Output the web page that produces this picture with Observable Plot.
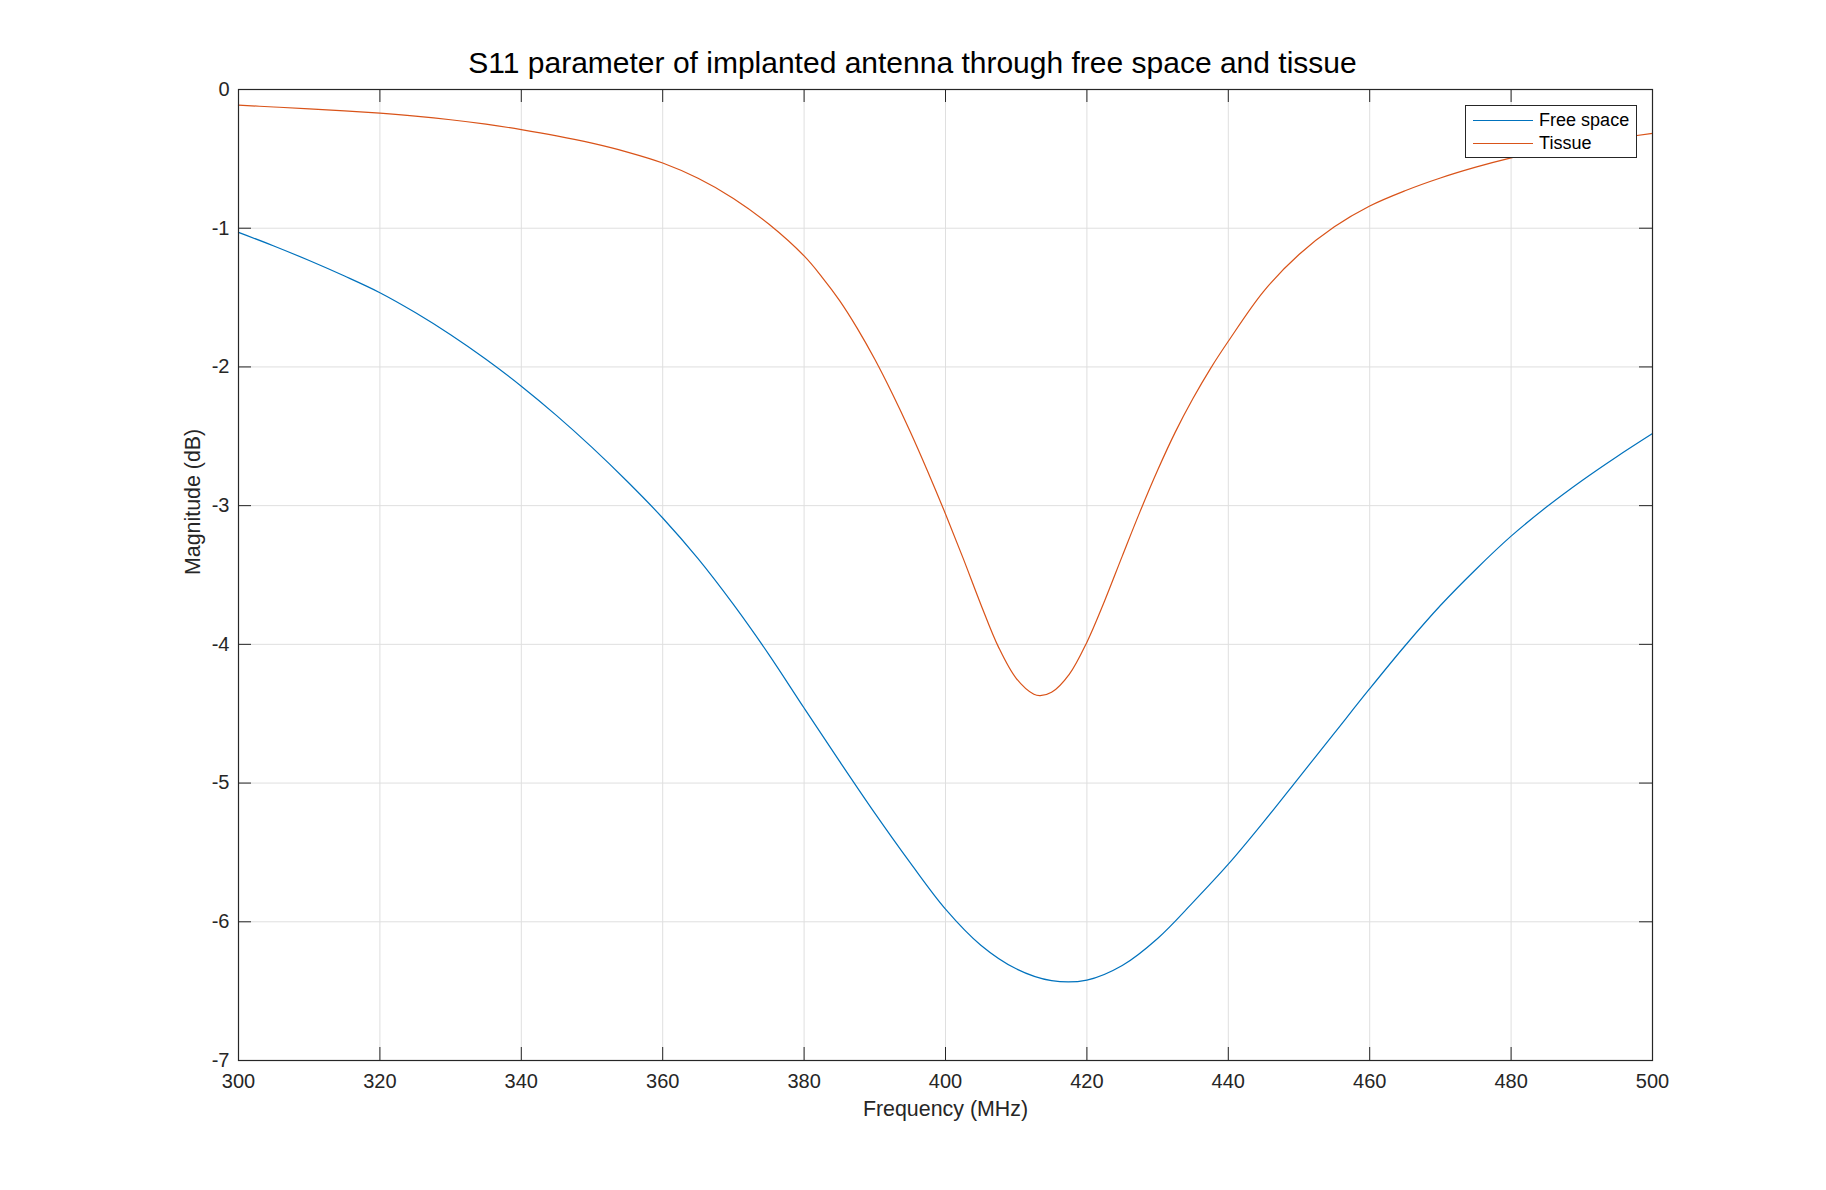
<!DOCTYPE html>
<html>
<head>
<meta charset="utf-8">
<script src="https://cdn.jsdelivr.net/npm/d3@7"></script>
<script src="https://cdn.jsdelivr.net/npm/@observablehq/plot@0.6"></script>
<style>
  body { margin: 0; background: #fff; font-family: "Liberation Sans", Arial, Helvetica, sans-serif; }
  #wrap { position: relative; width: 1826px; height: 1190px; }
  #legend { position: absolute; left: 1465px; top: 105px; width: 172px; height: 53px; box-sizing: border-box;
            border: 1px solid #262626; background: #fff; }
  .item { position: absolute; left: 6.5px; height: 20px; display: flex; align-items: center; }
  .swatch { width: 60px; height: 0; border-top: 1.3px solid; }
  .lab { margin-left: 6.6px; font-size: 18px; line-height: 20px; color: #000; white-space: nowrap; }
</style>
</head>
<body>
<div id="wrap"></div>
<script>
// ---- data ----
const title = "S11 parameter of implanted antenna through free space and tissue";
const xLabel = "Frequency (MHz)";
const yLabel = "Magnitude (dB)";
const seriesNames = ["Free space", "Tissue"];
const seriesColors = ["#0072BD", "#D95319"];
const xTicks = [300, 320, 340, 360, 380, 400, 420, 440, 460, 480, 500];
const yTicks = [0, -1, -2, -3, -4, -5, -6, -7];

const freeSpaceFreq = [300, 305, 310, 315, 320, 325, 330, 335, 340, 345, 350, 355, 360, 365, 370, 375, 380, 385, 390, 395, 400,
                       405, 410, 415, 420, 425, 430, 435, 440, 445, 450, 455, 460, 465, 470, 475, 480, 485, 490, 495, 500];
const freeSpaceMag  = [-1.03, -1.128, -1.233, -1.345, -1.465, -1.608, -1.768, -1.945, -2.139, -2.351, -2.58, -2.826, -3.089, -3.382, -3.712, -4.072, -4.459, -4.842, -5.217, -5.574, -5.909,
                       -6.169, -6.339, -6.424, -6.42, -6.315, -6.12, -5.86, -5.585, -5.28, -4.96, -4.64, -4.32, -4.01, -3.72, -3.46, -3.22, -3.01, -2.82, -2.645, -2.48];

const tissueFreq = [300, 305, 310, 315, 320, 325, 330, 335, 340, 345, 350, 355, 360, 365, 370, 375, 380, 382.5, 385, 387.5, 390, 392.5, 395, 397.5, 400,
                    402.5, 405, 407.5, 410, 412.5, 413.4, 415, 417.5, 420, 422.5, 425, 427.5, 430, 432.5, 435, 437.5, 440,
                    445, 450, 455, 460, 465, 470, 475, 480, 485, 490, 495, 500];
const tissueMag  = [-0.113, -0.126, -0.139, -0.154, -0.171, -0.192, -0.218, -0.250, -0.289, -0.334, -0.387, -0.451, -0.53, -0.64, -0.785, -0.97, -1.20, -1.35, -1.52, -1.72, -1.945, -2.195, -2.465, -2.755, -3.06,
                    -3.38, -3.712, -4.02, -4.245, -4.36, -4.37, -4.346, -4.216, -3.984, -3.687, -3.364, -3.045, -2.745, -2.47, -2.228, -2.01, -1.815,
                    -1.455, -1.19, -0.99, -0.84, -0.73, -0.638, -0.56, -0.493, -0.437, -0.392, -0.352, -0.316];

// ---- build tables ----
const freeSpace = freeSpaceFreq.map((f, i) => ({ f, v: freeSpaceMag[i] }));
const tissue = tissueFreq.map((f, i) => ({ f, v: tissueMag[i] }));

const W = 1826, H = 1190;
const mL = 238, mR = 174, mT = 89, mB = 130;
const frameW = W - mL - mR, frameH = H - mT - mB;
const tickLen = 13;
const axisColor = "#262626";
const gridColor = "#dfdfdf";
const fmt = d => String(d);

const chart = Plot.plot({
  width: W, height: H,
  marginLeft: mL, marginRight: mR, marginTop: mT, marginBottom: mB,
  style: { fontFamily: "Liberation Sans, Arial, Helvetica, sans-serif", background: "#fff", color: axisColor },
  x: { domain: [300, 500], ticks: xTicks },
  y: { domain: [-7, 0], ticks: yTicks },
  marks: [
    Plot.ruleX(xTicks.slice(1, -1), { stroke: gridColor, strokeWidth: 1 }),
    Plot.ruleY(yTicks.slice(1, -1), { stroke: gridColor, strokeWidth: 1 }),
    Plot.line(freeSpace, { x: "f", y: "v", stroke: seriesColors[0], strokeWidth: 1.2, curve: "catmull-rom" }),
    Plot.line(tissue, { x: "f", y: "v", stroke: seriesColors[1], strokeWidth: 1.2, curve: "catmull-rom" }),
    // inward ticks on all four sides
    Plot.ruleX(xTicks, { insetTop: frameH - tickLen, stroke: axisColor }),
    Plot.ruleX(xTicks, { insetBottom: frameH - tickLen, stroke: axisColor }),
    Plot.ruleY(yTicks, { insetRight: frameW - tickLen, stroke: axisColor }),
    Plot.ruleY(yTicks, { insetLeft: frameW - tickLen, stroke: axisColor }),
    Plot.frame({ stroke: axisColor, strokeWidth: 1.2 }),
    Plot.axisX({ ticks: xTicks, tickSize: 0, tickPadding: 13, fontSize: 20, label: null, tickFormat: fmt }),
    Plot.axisY({ ticks: yTicks, tickSize: 0, tickPadding: 9, fontSize: 20, label: null, tickFormat: fmt }),
    Plot.text([xLabel], { frameAnchor: "bottom", dy: 55, lineAnchor: "bottom", fontSize: 21.4, fill: axisColor }),
    Plot.text([yLabel], { frameAnchor: "left", dx: -39, rotate: -90, lineAnchor: "bottom", fontSize: 21.4, fill: axisColor }),
    Plot.text([title], { frameAnchor: "top", dx: -33, dy: -16.3, lineAnchor: "bottom", fontSize: 30, fill: "#000" })
  ]
});

const wrap = document.getElementById("wrap");
wrap.appendChild(chart);

// legend (inside the axes, top-right)
const legend = document.createElement("div");
legend.id = "legend";
const rowCenters = [14.3, 37];
seriesNames.forEach((name, i) => {
  const item = document.createElement("div");
  item.className = "item";
  item.style.top = (rowCenters[i] - 10) + "px";
  const sw = document.createElement("div");
  sw.className = "swatch";
  sw.style.borderTopColor = seriesColors[i];
  const lab = document.createElement("span");
  lab.className = "lab";
  lab.textContent = name;
  item.appendChild(sw);
  item.appendChild(lab);
  legend.appendChild(item);
});
wrap.appendChild(legend);
</script>
</body>
</html>
